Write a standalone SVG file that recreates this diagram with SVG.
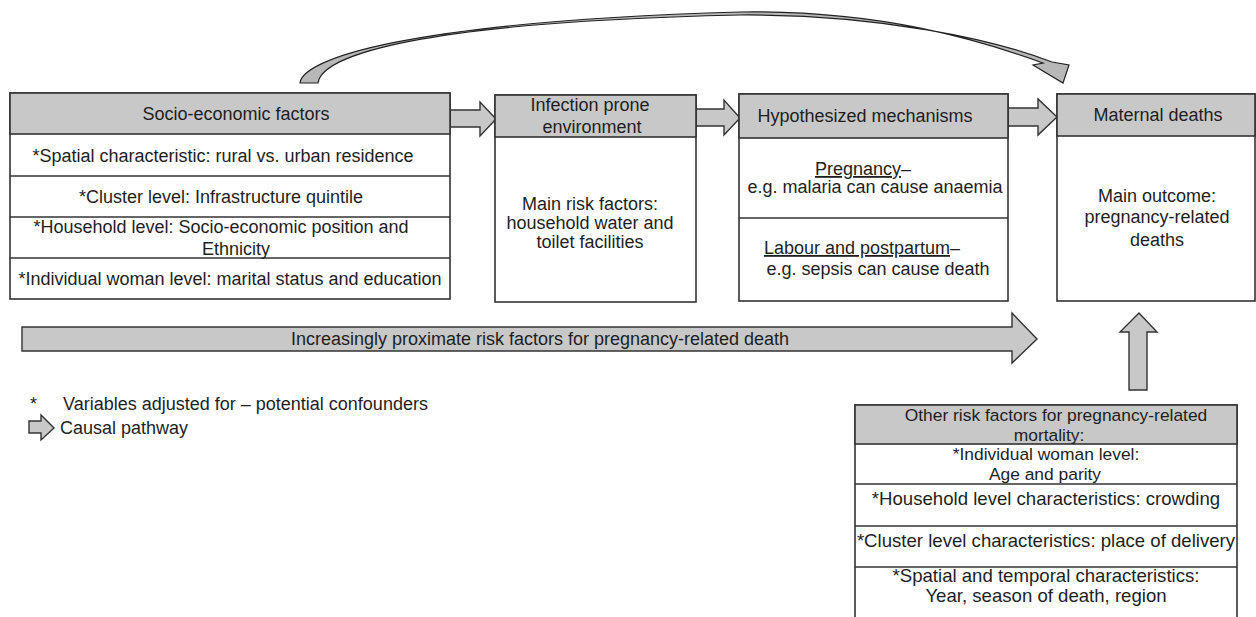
<svg xmlns="http://www.w3.org/2000/svg" width="1256" height="617" viewBox="0 0 1256 617">
<style>
  text { font-family: "Liberation Sans", Arial, Helvetica, sans-serif; font-size: 18px; fill: #1e1e1e; }
  .c { text-anchor: middle; }
  .o { font-size: 18.6px; }
  .t { font-size: 17.4px; }
  .box { fill: #ffffff; stroke: #333; stroke-width: 1.6; }
  .hdr { fill: #c8c8c8; stroke: #333; stroke-width: 1.6; }
  .ln { stroke: #333; stroke-width: 1.6; fill: none; }
  .arr { fill: #c8c8c8; stroke: #333; stroke-width: 1.4; stroke-linejoin: miter; }
  .curve { fill: #b8b8b8; stroke: #222; stroke-width: 1.2; stroke-linejoin: miter; }
  .u { text-decoration: underline; }
</style>
<rect width="1256" height="617" fill="#ffffff"/>

<g id="connectors">
  <path class="curve" d="M300,83 C302,60 400,22 740,12 C880,10 980,40 1043,63 L1033,65 L1063,83 L1069,65 L1052,62 C995,40 880,14 740,15 C420,22 322,55 318,83 Z"/>
  <path class="arr" d="M450,110 L480,110 L480,102 L496,119 L480,136 L480,127 L450,127 Z"/>
  <path class="arr" d="M696,109 L724,109 L724,100 L740,118 L724,135 L724,126 L696,126 Z"/>
  <path class="arr" d="M1008,108 L1038,108 L1038,99 L1057,117 L1038,135 L1038,126 L1008,126 Z"/>
  <path class="arr" d="M1129,390 L1129,332 L1120,332 L1139,313 L1157,332 L1147,332 L1147,390 Z"/>
</g>

<g id="proximate-arrow">
  <path class="arr" d="M22,327 L1012,327 L1012,313 L1037,339 L1012,363 L1012,351 L22,351 Z"/>
  <text class="c" x="540" y="345">Increasingly proximate risk factors for pregnancy-related death</text>
</g>

<g id="socio-economic">
  <rect class="box" x="10" y="93" width="440" height="206"/>
  <rect class="hdr" x="10" y="93" width="440" height="41"/>
  <line class="ln" x1="10" y1="176" x2="450" y2="176"/>
  <line class="ln" x1="10" y1="217" x2="450" y2="217"/>
  <line class="ln" x1="10" y1="258" x2="450" y2="258"/>
  <text class="c" x="236" y="120">Socio-economic factors</text>
  <text class="c" x="223" y="162">*Spatial characteristic: rural vs. urban residence</text>
  <text class="c" x="221" y="203">*Cluster level: Infrastructure quintile</text>
  <text class="c" x="221" y="233">*Household level: Socio-economic position and</text>
  <text class="c" x="236" y="255">Ethnicity</text>
  <text class="c" x="230" y="285">*Individual woman level: marital status and education</text>
</g>

<g id="infection">
  <rect class="box" x="495" y="95" width="201" height="207"/>
  <rect class="hdr" x="495" y="95" width="201" height="42"/>
  <text class="c" x="590" y="111">Infection prone</text>
  <text class="c" x="592" y="133">environment</text>
  <text class="c" x="590" y="210">Main risk factors:</text>
  <text class="c" x="590" y="229">household water and</text>
  <text class="c" x="590" y="248">toilet facilities</text>
</g>

<g id="mechanisms">
  <rect class="box" x="739" y="94" width="269" height="207"/>
  <rect class="hdr" x="739" y="94" width="269" height="44"/>
  <line class="ln" x1="739" y1="218" x2="1008" y2="218"/>
  <text class="c" x="865" y="122">Hypothesized mechanisms</text>
  <text class="c" x="863" y="175"><tspan class="u">Pregnancy</tspan>–</text>
  <text class="c" x="875" y="193">e.g. malaria can cause anaemia</text>
  <text class="c" x="862" y="254"><tspan class="u">Labour and postpartum</tspan>–</text>
  <text class="c" x="878" y="275">e.g. sepsis can cause death</text>
</g>

<g id="maternal">
  <rect class="box" x="1057" y="94" width="198" height="207"/>
  <rect class="hdr" x="1057" y="94" width="198" height="42"/>
  <text class="c" x="1158" y="121">Maternal deaths</text>
  <text class="c" x="1157" y="202">Main outcome:</text>
  <text class="c" x="1157" y="223">pregnancy-related</text>
  <text class="c" x="1157" y="246">deaths</text>
</g>

<g id="other-risk">
  <rect class="box" x="855" y="405" width="382" height="220"/>
  <rect class="hdr" x="855" y="405" width="382" height="39"/>
  <line class="ln" x1="855" y1="484" x2="1237" y2="484"/>
  <line class="ln" x1="855" y1="526" x2="1237" y2="526"/>
  <line class="ln" x1="855" y1="567" x2="1237" y2="567"/>
  <text class="c t" x="1056" y="421">Other risk factors for pregnancy-related</text>
  <text class="c t" x="1049" y="441">mortality:</text>
  <text class="c t" x="1046" y="460">*Individual woman level:</text>
  <text class="c t" x="1045" y="480">Age and parity</text>
  <text class="c o" x="1046" y="505">*Household level characteristics: crowding</text>
  <text class="c o" x="1046" y="547">*Cluster level characteristics: place of delivery</text>
  <text class="c o" x="1046" y="582">*Spatial and temporal characteristics:</text>
  <text class="c o" x="1046" y="602">Year, season of death, region</text>
</g>

<g id="legend">
  <text x="30" y="410">*</text>
  <text x="63" y="410">Variables adjusted for – potential confounders</text>
  <path class="arr" d="M29,421 L41,421 L41,415 L54,428 L41,440 L41,433 L29,433 Z"/>
  <text x="60" y="434">Causal pathway</text>
</g>
</svg>
